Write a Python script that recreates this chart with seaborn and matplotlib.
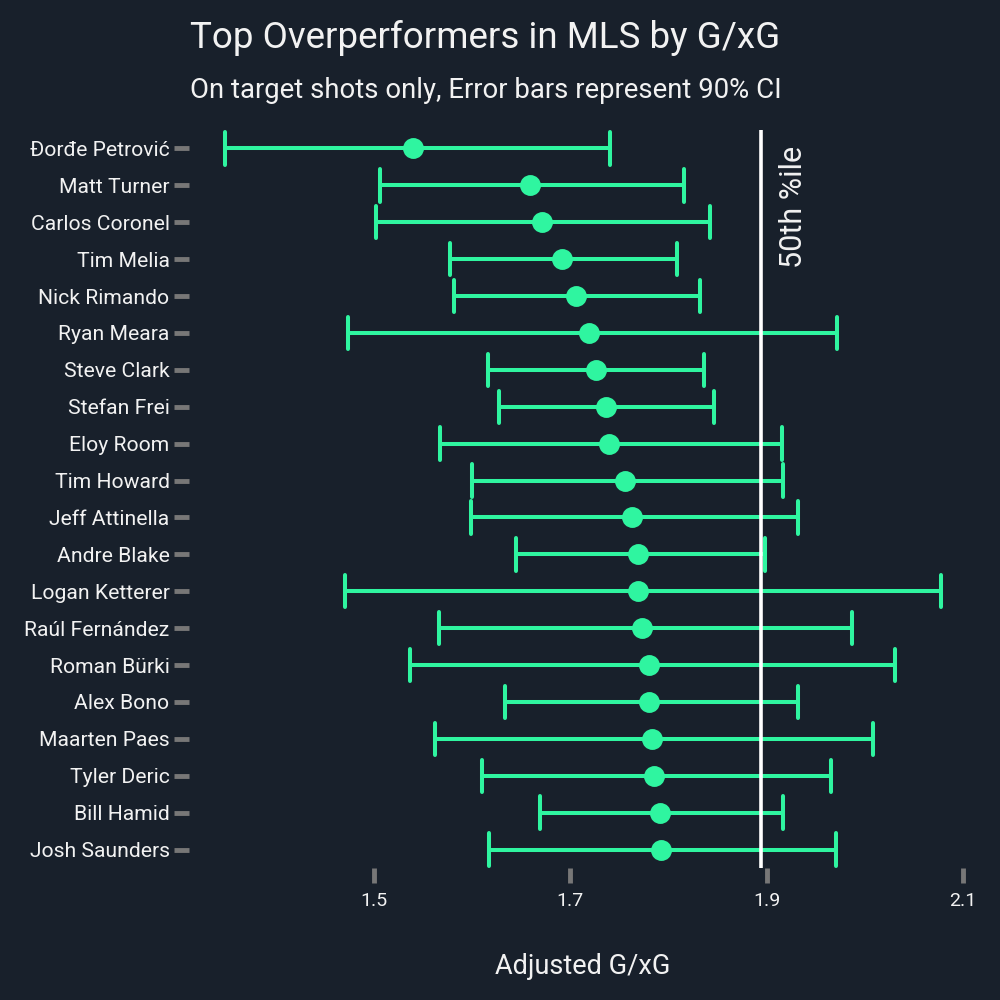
import numpy as np
import pandas as pd
import matplotlib
matplotlib.use("Agg")
import matplotlib.pyplot as plt
import seaborn as sns

players = ["Đorđe Petrović", "Matt Turner", "Carlos Coronel", "Tim Melia", "Nick Rimando",
           "Ryan Meara", "Steve Clark", "Stefan Frei", "Eloy Room", "Tim Howard",
           "Jeff Attinella", "Andre Blake", "Logan Ketterer", "Raúl Fernández", "Roman Bürki",
           "Alex Bono", "Maarten Paes", "Tyler Deric", "Bill Hamid", "Josh Saunders"]
estimate = [1.540, 1.659, 1.671, 1.692, 1.706, 1.719, 1.726, 1.736, 1.740, 1.756,
            1.763, 1.769, 1.769, 1.773, 1.780, 1.780, 1.783, 1.785, 1.791, 1.792]
ci_low = [1.348, 1.506, 1.502, 1.577, 1.582, 1.474, 1.616, 1.627, 1.567, 1.600,
          1.599, 1.645, 1.470, 1.566, 1.537, 1.634, 1.562, 1.610, 1.669, 1.617]
ci_high = [1.741, 1.816, 1.842, 1.809, 1.832, 1.972, 1.836, 1.847, 1.916, 1.917,
           1.932, 1.898, 2.078, 1.987, 2.031, 1.932, 2.009, 1.966, 1.917, 1.971]
median_line = 1.894
x_ticks = [1.5, 1.7, 1.9, 2.1]

title = "Top Overperformers in MLS by G/xG"
subtitle = "On target shots only, Error bars represent 90% CI"
xlabel = "Adjusted G/xG"
ref_label = "50th %ile"

BG = "#18202b"
GREEN = "#2ff5a0"
TICK_GRAY = "#777777"
TEXT = "#f2f2f2"

rows = []
for p, lo, m, hi in zip(players, ci_low, estimate, ci_high):
    for v in (lo, m, hi):
        rows.append({"player": p, "value": v})
df = pd.DataFrame(rows)

sns.set_theme(style="dark")
plt.rcParams["font.family"] = ["Roboto", "DejaVu Sans"]

fig = plt.figure(figsize=(10, 10), dpi=100, facecolor=BG)
ax = fig.add_axes([0.189, 0.132, 0.788, 0.738])
ax.set_facecolor(BG)

sns.pointplot(data=df, x="value", y="player", order=players,
              estimator="median",
              errorbar=lambda v: (np.min(v), np.max(v)),
              color=GREEN, linestyle="none", markers="o",
              markersize=13, capsize=0.88,
              err_kws={"linewidth": 2.9}, ax=ax)

ax.axvline(median_line, color="white", lw=2.6, zorder=5)
ax.text(median_line + 0.034, -0.08, ref_label, rotation=90, ha="center", va="top",
        color=TEXT, fontsize=22)

ax.set_xticks(x_ticks)
ax.set_xticklabels([f"{t:.1f}" for t in x_ticks])
ax.set_ylabel("")
ax.set_xlabel(xlabel, color=TEXT, fontsize=19.5, labelpad=31)
ax.tick_params(axis="both", colors=TICK_GRAY, length=11, width=3.5, bottom=True, left=True)
ax.tick_params(axis="y", labelcolor=TEXT, labelsize=15.2, pad=3)
ax.tick_params(axis="x", labelcolor=TEXT, labelsize=14, pad=6)
for s in ax.spines.values():
    s.set_visible(False)
ax.grid(False)

fig.text(0.190, 0.962, title, ha="left", va="center", color=TEXT, fontsize=26.5)
fig.text(0.190, 0.910, subtitle, ha="left", va="center", color=TEXT, fontsize=19.8)

fig.savefig("out.png", dpi=100, facecolor=BG)
